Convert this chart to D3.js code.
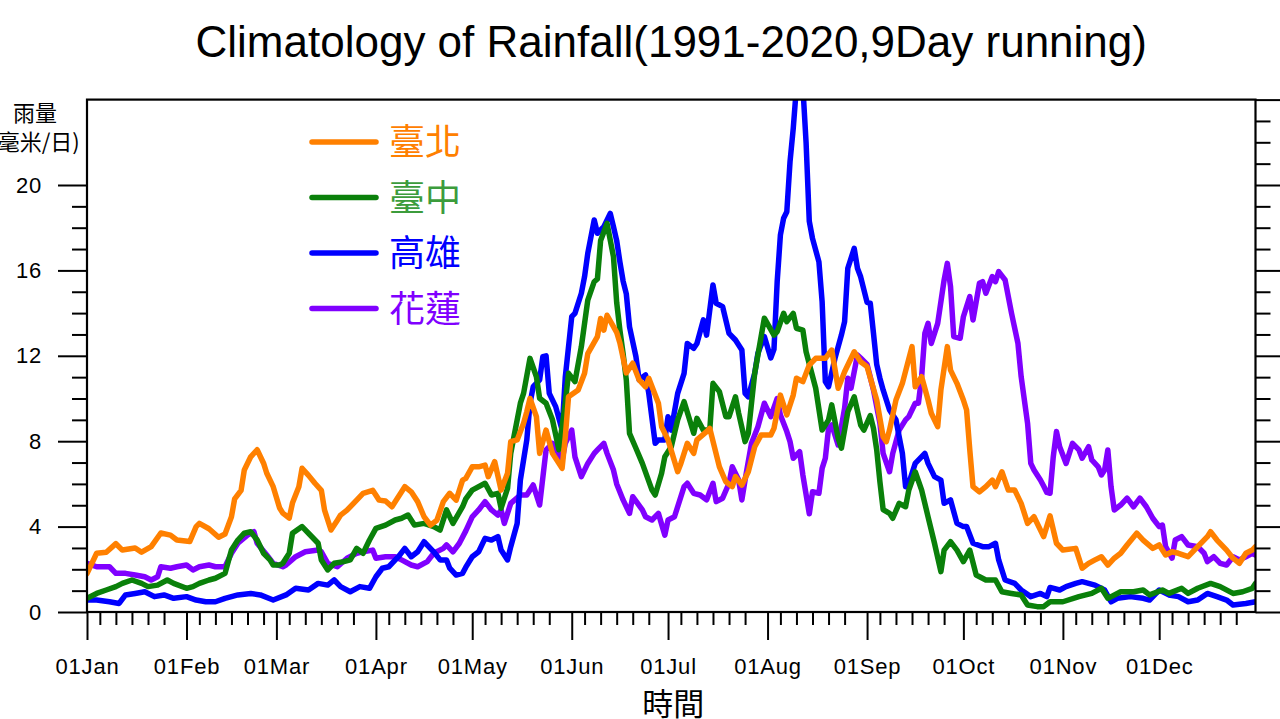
<!DOCTYPE html>
<html><head><meta charset="utf-8">
<script src="https://cdn.jsdelivr.net/npm/d3@7"></script>
<style>body{margin:0;background:#fff}svg{display:block}</style>
</head><body><svg id="c" width="1280" height="719"></svg>
<script>
const chartTitle = "Climatology of Rainfall(1991-2020,9Day running)";
const yLabelLines = ["雨量", "(毫米/日)"];
const xLabel = "時間";
const monthDays = [1, 32, 60, 91, 121, 152, 182, 213, 244, 274, 305, 335];
const monthLabels = ["01Jan","01Feb","01Mar","01Apr","01May","01Jun","01Jul","01Aug","01Sep","01Oct","01Nov","01Dec"];
const minorDaysOfMonth = [5, 10, 15, 20, 25];
const yMajorTicks = [0, 4, 8, 12, 16, 20];
const seriesNames = ["臺北", "臺中", "高雄", "花蓮"];
const seriesColors = ["#ff8000", "#0a800a", "#0000ff", "#8000ff"];
const legendTextColors = ["#ff8000", "#3c9c3c", "#0000ff", "#8000ff"];

// [day of year, mm/day]
const taipei = [[1,1.8],[4,2.75],[7,2.8],[10,3.2],[12,2.9],[16,3.0],[18,2.8],[21,3.06],[24,3.7],[27,3.6],[29,3.37],[33,3.3],[35,4.0],[36,4.15],[39,3.9],[42,3.5],[44,3.65],[46,4.46],[47,5.3],[49,5.7],[50,6.65],[52,7.27],[54,7.6],[56,6.97],[57,6.5],[59,5.87],[61,4.87],[62,4.63],[64,4.4],[65,5.1],[67,5.87],[68,6.73],[70,6.4],[72,6.03],[74,5.7],[75,4.77],[77,3.84],[79,4.3],[80,4.54],[82,4.77],[85,5.24],[87,5.56],[90,5.7],[92,5.24],[94,5.2],[96,4.93],[99,5.63],[100,5.87],[102,5.63],[104,5.17],[106,4.46],[108,4.07],[110,4.3],[112,5.17],[114,5.56],[116,5.24],[118,6.18],[119,6.26],[121,6.8],[123,6.8],[125,6.88],[126,6.34],[128,7.04],[130,5.71],[132,6.5],[133,7.98],[135,8.06],[137,8.84],[138,9.38],[139,10.0],[141,9.15],[142,7.43],[144,8.52],[146,7.43],[149,6.73],[150,8.21],[151,10.08],[154,10.4],[156,11.18],[157,12.1],[160,12.9],[161,13.75],[162,13.2],[163,13.9],[166,13.1],[167,12.6],[169,11.2],[171,11.65],[173,10.87],[175,10.55],[176,10.95],[179,9.78],[180,8.68],[182,8.06],[185,6.57],[186,6.96],[188,7.9],[190,7.43],[191,8.06],[194,8.45],[195,8.6],[198,6.8],[200,6.1],[202,5.87],[203,6.34],[205,5.95],[207,6.57],[209,7.74],[211,8.29],[214,8.29],[215,8.6],[217,10.16],[219,9.23],[221,10.16],[222,10.95],[224,10.79],[226,11.57],[228,11.88],[231,11.88],[233,12.27],[235,10.48],[237,11.25],[240,12.19],[242,11.72],[244,11.49],[247,9.93],[249,8.21],[250,7.98],[251,8.52],[253,9.93],[255,10.71],[258,12.43],[259,10.55],[261,11.02],[263,9.93],[264,9.31],[266,8.68],[267,10.4],[269,12.43],[270,11.33],[272,10.71],[274,9.93],[275,9.46],[276,7.59],[277,5.87],[279,5.63],[281,5.87],[283,6.18],[284,5.87],[286,6.57],[288,5.71],[290,5.71],[292,5.09],[294,4.15],[296,4.46],[299,3.53],[301,4.5],[303,3.22],[305,2.9],[309,2.98],[311,2.05],[313,2.28],[315,2.44],[317,2.59],[319,2.2],[321,2.52],[323,2.75],[325,3.14],[328,3.69],[330,3.37],[333,2.98],[335,3.14],[337,2.67],[339,2.82],[341,2.75],[344,2.59],[347,3.06],[350,3.53],[351,3.76],[353,3.37],[356,2.9],[358,2.52],[360,2.28],[362,2.75],[364,2.9],[365,3.06]];

const taichung = [[1,0.64],[4,0.87],[7,1.03],[10,1.19],[12,1.34],[15,1.5],[18,1.34],[20,1.19],[23,1.26],[26,1.5],[28,1.34],[32,1.11],[34,1.19],[36,1.34],[39,1.5],[41,1.58],[44,1.81],[46,2.9],[48,3.37],[50,3.69],[52,3.76],[54,3.37],[56,2.75],[58,2.44],[59,2.2],[61,2.2],[62,2.28],[64,2.75],[65,3.69],[68,4.0],[70,3.69],[73,3.22],[74,2.44],[76,1.97],[78,2.28],[81,2.36],[83,2.44],[85,2.98],[87,2.75],[89,3.37],[91,3.92],[94,4.07],[97,4.31],[99,4.39],[101,4.54],[103,4.07],[106,4.15],[109,4.0],[111,3.84],[113,4.78],[115,4.15],[118,4.93],[119,5.3],[121,5.71],[125,6.03],[127,5.48],[129,5.56],[130,4.86],[132,5.79],[133,7.43],[136,9.78],[137,10.24],[139,11.88],[141,11.02],[142,10.01],[144,9.78],[146,9.0],[148,7.6],[150,9.8],[151,11.18],[153,10.79],[155,12.43],[157,14.61],[159,15.47],[160,15.6],[161,17.4],[163,18.2],[165,16.64],[166,14.5],[167,13.2],[168,12.1],[169,10.87],[170,8.37],[172,7.67],[174,6.96],[177,5.71],[178,5.48],[180,6.5],[181,7.27],[183,7.74],[185,9.0],[187,9.85],[190,8.37],[191,9.07],[193,8.52],[195,8.52],[196,10.71],[198,10.32],[200,9.15],[201,9.15],[203,10.08],[204,9.31],[206,7.98],[207,8.37],[209,11.18],[211,12.9],[212,13.76],[215,12.97],[216,13.13],[218,13.99],[219,13.6],[221,13.99],[222,13.29],[224,13.2],[225,12.19],[228,10.48],[230,8.52],[232,9.0],[233,9.7],[235,8.14],[236,7.67],[238,9.38],[240,10.08],[242,8.76],[243,8.52],[245,9.2],[246,8.6],[247,7.6],[248,6.1],[249,4.8],[251,4.62],[252,4.39],[254,5.09],[256,4.93],[257,5.71],[259,6.57],[261,5.71],[263,4.46],[265,3.22],[267,1.89],[268,2.9],[270,3.29],[272,2.9],[274,2.36],[276,2.9],[278,1.73],[281,1.5],[284,1.5],[286,0.95],[289,0.87],[292,0.8],[294,0.33],[297,0.25],[299,0.25],[301,0.48],[305,0.48],[310,0.72],[314,0.87],[317,1.11],[319,0.64],[323,0.95],[327,0.95],[330,1.03],[332,0.8],[336,1.03],[338,0.87],[342,1.11],[344,0.87],[347,1.11],[351,1.34],[354,1.19],[358,0.87],[361,0.95],[364,1.11],[365,1.34]];

const kaohsiung = [[1,0.56],[4,0.56],[8,0.48],[11,0.4],[13,0.8],[16,0.87],[19,0.95],[22,0.72],[25,0.8],[28,0.64],[32,0.72],[35,0.56],[38,0.48],[41,0.48],[44,0.64],[48,0.8],[52,0.87],[55,0.8],[59,0.56],[63,0.8],[66,1.11],[70,1.03],[73,1.34],[76,1.26],[78,1.5],[80,1.19],[83,0.95],[86,1.19],[89,1.11],[91,1.65],[93,2.05],[95,2.12],[98,2.59],[100,2.98],[102,2.59],[104,2.82],[106,3.29],[109,2.82],[111,2.44],[113,2.44],[114,2.05],[116,1.73],[118,1.81],[119,2.1],[121,2.59],[123,2.82],[125,3.45],[127,3.37],[129,3.53],[130,2.9],[132,2.44],[133,3.06],[135,4.15],[136,6.18],[138,8.06],[139,9.78],[140,10.55],[142,10.87],[143,11.96],[144,12.0],[145,10.24],[147,9.62],[149,8.52],[150,11.02],[152,13.83],[153,13.99],[155,14.93],[156,15.71],[157,16.8],[159,18.36],[160,17.74],[162,18.05],[164,18.67],[165,18.05],[166,17.4],[167,16.4],[168,15.5],[169,14.9],[170,13.36],[172,11.96],[173,10.87],[175,11.1],[176,10.24],[178,7.9],[179,8.06],[181,8.06],[182,9.15],[183,8.52],[185,10.24],[187,11.18],[188,12.58],[190,12.35],[191,12.58],[193,13.68],[194,12.97],[196,15.32],[197,14.46],[199,14.3],[201,13.05],[203,12.74],[205,12.27],[206,10.24],[207,10.08],[209,11.18],[210,12.12],[212,12.9],[214,11.9],[215,12.3],[216,15.47],[217,17.66],[218,18.44],[219,18.75],[220,21.09],[221,22.65],[222,24.6],[224,24.6],[225,22.0],[226,18.3],[227,17.5],[229,16.4],[230,14.53],[231,10.79],[232,10.55],[234,11.88],[236,12.97],[237,13.6],[238,16.1],[240,17.03],[241,16.1],[242,15.7],[244,14.5],[245,14.46],[246,13.05],[247,11.6],[248,10.95],[249,10.4],[251,9.46],[253,9.0],[254,8.21],[255,7.43],[256,5.87],[257,6.03],[259,6.96],[262,7.43],[263,6.96],[265,6.34],[267,6.18],[268,5.09],[270,5.25],[272,4.15],[274,4.0],[275,4.0],[277,3.22],[280,3.06],[282,3.06],[284,3.22],[285,2.44],[287,1.5],[290,1.34],[292,1.03],[295,0.72],[298,0.87],[300,0.72],[301,1.15],[304,1.03],[306,1.19],[309,1.34],[311,1.42],[313,1.34],[315,1.26],[318,1.03],[320,0.48],[322,0.64],[326,0.72],[330,0.64],[332,0.56],[335,1.03],[338,0.8],[341,0.72],[344,0.48],[347,0.56],[350,0.87],[353,0.72],[356,0.56],[358,0.33],[362,0.4],[365,0.48]];

const hualien = [[1,2.28],[4,2.12],[8,2.12],[10,1.81],[13,1.81],[16,1.73],[19,1.65],[21,1.5],[23,1.65],[24,2.12],[27,2.05],[29,2.12],[32,2.2],[34,1.97],[36,2.12],[39,2.2],[41,2.12],[44,2.12],[46,2.75],[48,3.22],[51,3.6],[53,3.76],[54,3.22],[57,2.67],[59,2.28],[62,2.12],[63,2.2],[66,2.59],[69,2.82],[73,2.9],[74,2.82],[76,2.28],[79,2.12],[82,2.52],[85,2.75],[87,2.82],[90,2.9],[91,2.52],[94,2.59],[97,2.59],[99,2.44],[102,2.2],[104,2.12],[107,2.36],[109,2.75],[112,2.98],[113,3.14],[115,2.82],[117,3.22],[119,3.8],[121,4.46],[123,4.78],[125,5.17],[127,4.78],[129,4.54],[130,4.78],[131,4.15],[133,5.09],[136,5.48],[138,5.48],[140,5.95],[142,5.01],[144,7.59],[146,7.9],[149,7.12],[150,7.9],[152,8.52],[153,7.27],[155,6.34],[157,6.96],[159,7.43],[160,7.59],[162,7.9],[163,7.43],[165,6.65],[166,6.0],[168,5.25],[170,4.62],[171,5.4],[174,4.78],[175,4.46],[177,4.31],[179,4.62],[181,3.6],[182,4.31],[184,4.46],[187,5.87],[188,6.03],[190,5.56],[192,5.48],[194,5.25],[196,6.03],[197,5.17],[199,5.33],[201,6.03],[202,6.8],[204,6.18],[205,5.25],[206,6.18],[208,7.9],[210,8.68],[212,9.78],[214,9.15],[216,10.0],[217,9.23],[219,8.45],[220,7.98],[221,7.2],[223,7.51],[224,6.42],[226,4.6],[227,5.63],[229,5.56],[230,6.73],[231,7.2],[232,8.6],[233,8.76],[235,7.82],[237,9.54],[238,10.95],[239,10.48],[241,12.04],[242,11.9],[244,11.6],[246,10.4],[248,8.84],[249,7.43],[251,6.57],[252,7.43],[254,8.52],[256,9.0],[257,9.15],[259,9.78],[260,9.78],[261,11.02],[262,13.05],[263,13.52],[264,12.58],[266,13.52],[268,15.55],[269,16.33],[270,15.24],[271,12.9],[273,12.82],[274,13.83],[276,14.77],[277,13.68],[279,15.4],[280,15.47],[281,14.93],[283,15.71],[284,15.47],[285,15.94],[287,15.55],[289,13.99],[291,12.58],[292,11.02],[294,8.84],[295,6.96],[296,6.65],[298,6.18],[299,5.9],[300,5.6],[301,5.56],[302,7.27],[303,8.45],[304,7.74],[306,6.96],[308,7.9],[310,7.59],[311,7.2],[313,7.74],[314,7.12],[316,6.8],[317,6.42],[318,6.65],[319,7.59],[320,5.87],[321,4.78],[323,5.01],[325,5.33],[327,4.93],[329,5.33],[331,4.93],[333,4.39],[335,4.0],[336,4.07],[337,3.06],[339,2.52],[340,3.37],[342,3.53],[344,3.14],[347,3.06],[349,2.75],[350,2.36],[352,2.59],[354,2.28],[356,2.2],[358,2.59],[360,2.44],[362,2.59],[364,2.75],[365,2.67]];

const seriesData = [taipei, taichung, kaohsiung, hualien];

const svg = d3.select("#c");
svg.append("rect").attr("width",1280).attr("height",719).attr("fill","#fff");
const L = 87, R = 1255.5, T = 99.6, B = 612;
const font = "'Liberation Sans', Arial, Helvetica, sans-serif";
const cjk = "'Noto Sans CJK TC', 'Noto Sans CJK SC', sans-serif";

const x = d3.scaleLinear().domain([1, 365]).range([L, R]);
const y = d3.scaleLinear().domain([0, 24]).range([B, T]);

svg.append("defs").append("clipPath").attr("id","clip")
  .append("rect").attr("x",L).attr("y",T).attr("width",R-L).attr("height",B-T);

// lines (drawn in reverse so Taipei is on top)
const line = d3.line().x(d => x(d[0])).y(d => y(d[1]));
const g = svg.append("g").attr("clip-path","url(#clip)");
for (let i = seriesData.length - 1; i >= 0; i--) {
  g.append("path").datum(seriesData[i]).attr("d", line)
    .attr("fill","none").attr("stroke", seriesColors[i])
    .attr("stroke-width",5.5).attr("stroke-linejoin","round").attr("stroke-linecap","round");
}

// frame
svg.append("rect").attr("x",L).attr("y",T).attr("width",R-L).attr("height",B-T)
  .attr("fill","none").attr("stroke","#000").attr("stroke-width",2.2);

function styleAxis(sel){
  sel.select(".domain").remove();
  sel.selectAll(".tick line").attr("stroke","#000").attr("stroke-width",2);
  sel.selectAll("text").attr("font-family",font).attr("font-size",22)
    .attr("letter-spacing","0.8px").attr("fill","#000");
}
// left axis (ticks only up to 20)
const minorY = d3.range(1, 20).filter(v => v % 4 !== 0);
svg.append("g").attr("transform",`translate(${L},0)`)
  .call(d3.axisLeft(y).tickValues(minorY).tickSize(15).tickFormat(""))
  .call(styleAxis);
svg.append("g").attr("transform",`translate(${L},0)`)
  .call(d3.axisLeft(y).tickValues(yMajorTicks).tickSize(29).tickPadding(16).tickFormat(d3.format("d")))
  .call(styleAxis);
// right axis
svg.append("g").attr("transform",`translate(${R},0)`)
  .call(d3.axisRight(y).tickValues(d3.range(1, 24).filter(v => v % 4 !== 0)).tickSize(15).tickFormat(""))
  .call(styleAxis);
svg.append("g").attr("transform",`translate(${R},0)`)
  .call(d3.axisRight(y).tickValues(d3.range(0, 25, 4)).tickSize(25).tickFormat(""))
  .call(styleAxis);
// bottom axis
const minorX = monthDays.flatMap(m => minorDaysOfMonth.map(d => m + d - 1));
svg.append("g").attr("transform",`translate(0,${B})`)
  .call(d3.axisBottom(x).tickValues(minorX).tickSize(13).tickFormat(""))
  .call(styleAxis);
svg.append("g").attr("transform",`translate(0,${B})`)
  .call(d3.axisBottom(x).tickValues(monthDays).tickSize(28).tickPadding(18).tickFormat((d,i) => monthLabels[i]))
  .call(styleAxis);

// title
svg.append("text").attr("x",(L+R)/2).attr("y",57).attr("text-anchor","middle")
  .attr("font-family",font).attr("font-size",44).attr("fill","#000").text(chartTitle);
// y label
yLabelLines.forEach((t,i) => {
  svg.append("text").attr("x",35).attr("y",121 + i*29).attr("text-anchor","middle")
    .attr("font-family",cjk).attr("font-size",22).attr("fill","#000").text(t);
});
// x label
svg.append("text").attr("x",(L+R)/2 + 2).attr("y",715).attr("text-anchor","middle")
  .attr("font-family",cjk).attr("font-size",31).attr("fill","#000").text(xLabel);

// legend
seriesNames.forEach((n,i) => {
  const ly = 142 + i*55.5;
  svg.append("line").attr("x1",312).attr("x2",376).attr("y1",ly).attr("y2",ly)
    .attr("stroke",seriesColors[i]).attr("stroke-width",5.5).attr("stroke-linecap","round");
  svg.append("text").attr("x",389).attr("y",ly+13).attr("font-family",cjk).attr("font-size",36)
    .attr("fill",legendTextColors[i]).text(n);
});
</script></body></html>
